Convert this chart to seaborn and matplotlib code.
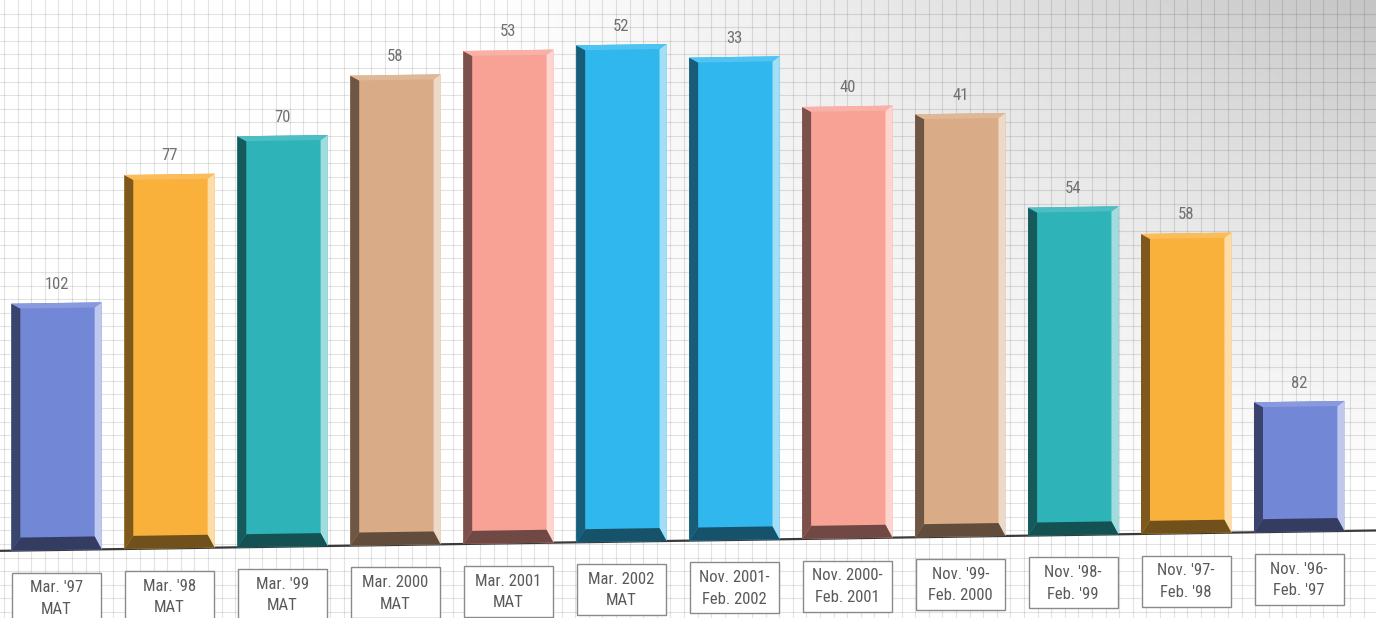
import numpy as np
import pandas as pd
import matplotlib
matplotlib.use("Agg")
import matplotlib.pyplot as plt
from matplotlib import font_manager as fm
from matplotlib.patches import Polygon, Rectangle
from matplotlib.transforms import Affine2D
import matplotlib.colors as mcolors
import seaborn as sns

# ---- data -------------------------------------------------------------
periods = [
    "Mar. '97\nMAT", "Mar. '98\nMAT", "Mar. '99\nMAT", "Mar. 2000\nMAT",
    "Mar. 2001\nMAT", "Mar. 2002\nMAT", "Nov. 2001-\nFeb. 2002",
    "Nov. 2000-\nFeb. 2001", "Nov. '99-\nFeb. 2000", "Nov. '98-\nFeb. '99",
    "Nov. '97-\nFeb. '98", "Nov. '96-\nFeb. '97",
]
index_values = [49.4, 74.8, 82.2, 94.0, 98.6, 99.4, 96.6, 86.4, 84.6, 65.6, 60.0, 26.0]
rank_labels = [102, 77, 70, 58, 53, 52, 33, 40, 41, 54, 58, 82]
bar_colors = ["#7387d7", "#f9b13c", "#2db3b8", "#d9ab86", "#f8a296", "#30b8ee",
              "#30b8ee", "#f8a296", "#d9ab86", "#2db3b8", "#f9b13c", "#7387d7"]

df = pd.DataFrame({"period": periods, "value": index_values})

# ---- fonts ------------------------------------------------------------
def pick_font(names):
    for n in names:
        try:
            fm.findfont(fm.FontProperties(family=n), fallback_to_default=False)
            return n
        except Exception:
            continue
    return "DejaVu Sans"

narrow = pick_font(["Liberation Sans Narrow", "Roboto Condensed", "Liberation Sans"])

sns.set_theme(style="white")
plt.rcParams["font.family"] = [narrow, "DejaVu Sans"]

W, H = 1376, 618
fig = plt.figure(figsize=(W / 100, H / 100), dpi=100)

# ---- graph-paper background with a grey sheen in the upper right ------
bg = fig.add_axes([0, 0, 1, 1])
xx, yy = np.meshgrid(np.linspace(0, 1, 400), np.linspace(1, 0, 200))
shade = 1 - 0.23 * np.clip((xx - 0.33) / 0.67, 0, 1) ** 1.2 * np.clip((yy - 0.2) / 0.8, 0, 1) ** 1.1
bg.imshow(shade, cmap="gray", vmin=0, vmax=1, extent=(0, W, 0, H), aspect="auto",
          interpolation="bilinear")
step = 13.6
for gx in np.arange(4, W, step):
    bg.axvline(gx, color=(0, 0, 0, 0.11), lw=0.8)
for gy in np.arange(6, H, step):
    bg.axhline(gy, color=(0, 0, 0, 0.11), lw=0.8)
bg.set_xlim(0, W)
bg.set_ylim(0, H)
bg.axis("off")

# ---- bars -------------------------------------------------------------
ax = fig.add_axes([0, 0, 1, 1])
ax.patch.set_alpha(0)
sns.barplot(data=df, x="period", y="value", hue="period", palette=bar_colors,
            legend=False, width=0.8, saturation=1, ax=ax)
ax.set_xlim(-0.5, 11.68)
ax.set_ylim(-13.6, 110)
ax.axis("off")

# slight perspective: the floor rises toward the right
slope = 0.0148
shear = Affine2D().translate(-56.5, 0).skew(0, np.arctan(slope)).translate(56.5, 0)
tr = ax.transData + shear

ux = 1 / 112.95   # data units per pixel, horizontal
uy = 1 / 5.0      # data units per pixel, vertical
lw_, rw_, tw_, bw_ = 9 * ux, 7 * ux, 5 * uy, 13 * uy


def mix(c, other, t):
    c = np.array(mcolors.to_rgb(c))
    o = np.array(mcolors.to_rgb(other))
    return tuple(c * (1 - t) + o * t)


ax.plot([-0.6, 11.8], [0, 0], color="#3a3a3a", lw=1.6, transform=tr, zorder=1)

for bar, col, rank in zip(ax.patches, bar_colors, rank_labels):
    bar.set_transform(tr)
    bar.set_edgecolor("none")
    bar.set_zorder(2)
    x0 = bar.get_x()
    x1 = x0 + bar.get_width()
    h = bar.get_height()
    faces = [
        ([(x0, 0), (x0, h), (x0 + lw_, h - tw_), (x0 + lw_, bw_)], mix(col, "black", 0.5)),
        ([(x1, 0), (x1, h), (x1 - rw_, h - tw_), (x1 - rw_, bw_)], mix(col, "white", 0.55)),
        ([(x0, h), (x1, h), (x1 - rw_, h - tw_), (x0 + lw_, h - tw_)], mix(col, "white", 0.15)),
        ([(x0, 0), (x1, 0), (x1 - rw_, bw_), (x0 + lw_, bw_)], mix(col, "black", 0.55)),
    ]
    for pts, fc in faces:
        ax.add_patch(Polygon(pts, closed=True, facecolor=fc, edgecolor="none",
                             transform=tr, zorder=3))
    cx = x0 + bar.get_width() / 2
    ax.text(cx, h + 3.7, str(rank), ha="center", va="center", fontsize=12,
            color="#707070", transform=tr, zorder=4)

# ---- boxed period labels under the floor (level boxes on the tilted floor)
box_w, box_h = 89, 51
for i, lab in enumerate(periods):
    px, py = tr.transform((i, -9.6))
    bg.add_patch(Rectangle((px - box_w / 2, py - box_h / 2), box_w, box_h,
                           facecolor="white", edgecolor="#8a8a8a", lw=1.0, zorder=5))
    bg.text(px, py - 0.5, lab, ha="center", va="center", fontsize=12, color="#5a5a5a",
            linespacing=1.55, zorder=6)

fig.savefig("out.png", dpi=100)
